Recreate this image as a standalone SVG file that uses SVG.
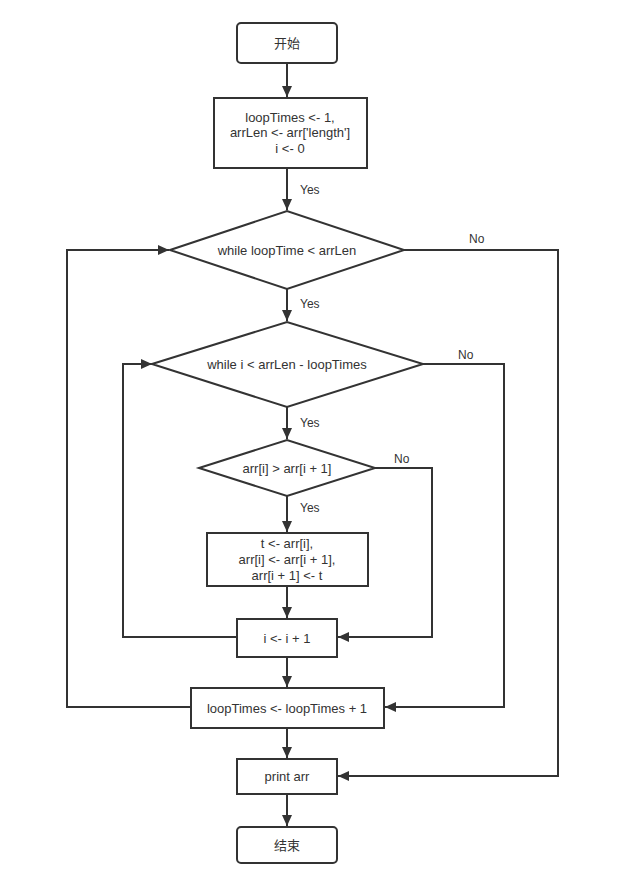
<svg xmlns="http://www.w3.org/2000/svg" width="622" height="888" viewBox="0 0 622 888">
<style>
.n{fill:#fff;stroke:#333;stroke-width:2}
.t{font-family:"Liberation Sans","Noto Sans CJK SC",Arial,sans-serif;font-size:13px;fill:#333;text-anchor:middle;dominant-baseline:central}
.c{fill:none;stroke:#333;stroke-width:2}
.l{font-family:"Liberation Sans",Arial,sans-serif;font-size:12px;fill:#333;dominant-baseline:central}
</style>
<defs>
<marker id="a" markerUnits="userSpaceOnUse" markerWidth="12" markerHeight="10" refX="11" refY="5" orient="auto">
<path d="M0,0 L11,5 L0,10 Z" fill="#333"/>
</marker>
</defs>
<rect width="622" height="888" fill="#fff"/>
<g id="connectors">
<path class="c" d="M287,63 V97" marker-end="url(#a)"/>
<path class="c" d="M287,168 V210" marker-end="url(#a)"/>
<path class="c" d="M287,289 V321" marker-end="url(#a)"/>
<path class="c" d="M287,407 V439" marker-end="url(#a)"/>
<path class="c" d="M287,496 V532" marker-end="url(#a)"/>
<path class="c" d="M287,586 V618" marker-end="url(#a)"/>
<path class="c" d="M287,657 V687" marker-end="url(#a)"/>
<path class="c" d="M287,728 V758" marker-end="url(#a)"/>
<path class="c" d="M287,794 V826" marker-end="url(#a)"/>
<path class="c" d="M404,250 H558 V776 H338" marker-end="url(#a)"/>
<path class="c" d="M423,364 H504 V707 H385" marker-end="url(#a)"/>
<path class="c" d="M375,468 H432 V637 H338" marker-end="url(#a)"/>
<path class="c" d="M237,637 H123 V364 H152" marker-end="url(#a)"/>
<path class="c" d="M191,707 H67 V250 H169" marker-end="url(#a)"/>
<text class="l" x="300" y="190">Yes</text>
<text class="l" x="300" y="304">Yes</text>
<text class="l" x="300" y="423">Yes</text>
<text class="l" x="300" y="508">Yes</text>
<text class="l" x="469" y="239">No</text>
<text class="l" x="458" y="355">No</text>
<text class="l" x="394" y="459">No</text>
</g>
<g id="start"><rect class="n" x="237" y="23" width="100" height="40" rx="4"/><text class="t" x="287" y="43">开始</text></g>
<g id="init"><rect class="n" x="214" y="98" width="153" height="70"/>
<text class="t" x="290" y="117">loopTimes &lt;- 1,</text>
<text class="t" x="290" y="132">arrLen &lt;- arr['length']</text>
<text class="t" x="290" y="148">i &lt;- 0</text></g>
<g id="outer"><polygon class="n" points="170,250 287,211 404,250 287,289"/><text class="t" x="287" y="250">while loopTime &lt; arrLen</text></g>
<g id="inner"><polygon class="n" points="152,364 287,322 423,364 287,407"/><text class="t" x="287" y="364">while i &lt; arrLen - loopTimes</text></g>
<g id="cmp"><polygon class="n" points="199,468 287,440 375,468 287,496"/><text class="t" x="287" y="468">arr[i] &gt; arr[i + 1]</text></g>
<g id="swap"><rect class="n" x="207" y="533" width="161" height="53"/>
<text class="t" x="287" y="543">t &lt;- arr[i],</text>
<text class="t" x="287" y="559">arr[i] &lt;- arr[i + 1],</text>
<text class="t" x="287" y="575">arr[i + 1] &lt;- t</text></g>
<g id="inc"><rect class="n" x="237" y="619" width="100" height="38"/><text class="t" x="287" y="638">i &lt;- i + 1</text></g>
<g id="loopinc"><rect class="n" x="191" y="688" width="193" height="40"/><text class="t" x="287" y="708">loopTimes &lt;- loopTimes + 1</text></g>
<g id="print"><rect class="n" x="237" y="759" width="100" height="35"/><text class="t" x="287" y="776">print arr</text></g>
<g id="end"><rect class="n" x="237" y="827" width="100" height="36" rx="4"/><text class="t" x="287" y="845">结束</text></g>
</svg>
